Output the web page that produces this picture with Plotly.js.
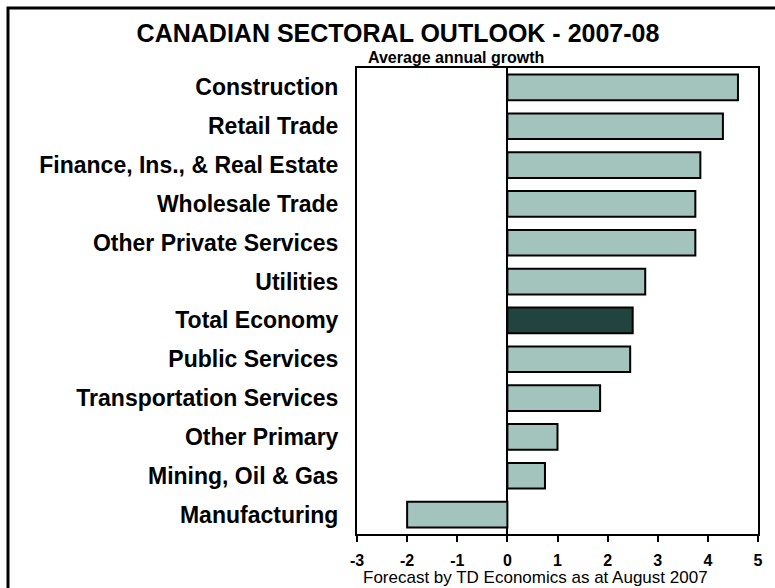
<!DOCTYPE html>
<html>
<head>
<meta charset="utf-8">
<script src="https://cdn.plot.ly/plotly-3.0.1.min.js"></script>
<style>
html,body{margin:0;padding:0;background:#fff;overflow:hidden;}
#chart{width:775px;height:588px;}
</style>
</head>
<body>
<div id="chart"></div>
<script>
const sectors = [
  "Construction",
  "Retail Trade",
  "Finance, Ins., & Real Estate",
  "Wholesale Trade",
  "Other Private Services",
  "Utilities",
  "Total Economy",
  "Public Services",
  "Transportation Services",
  "Other Primary",
  "Mining, Oil & Gas",
  "Manufacturing"
];
const growth = [4.6, 4.3, 3.85, 3.75, 3.75, 2.75, 2.5, 2.45, 1.85, 1.0, 0.75, -2.0];
const highlight = "Total Economy";
const xTicks = [-3, -2, -1, 0, 1, 2, 3, 4, 5];

const lightColor = "#a3c4bc";
const darkColor = "#22443f";
const FONT = "Liberation Sans, Arial, Helvetica, sans-serif";

const colors = sectors.map(s => s === highlight ? darkColor : lightColor);

const W = 775, H = 588;
const m = {l: 357, r: 17, t: 68, b: 54};
const pw = W - m.l - m.r, ph = H - m.t - m.b;
const px = v => (v - m.l) / pw;
const py = v => (H - m.b - v) / ph;

const trace = {
  type: "bar",
  orientation: "h",
  y: sectors,
  x: growth,
  marker: {color: colors, line: {color: "#000", width: 2}},
  hoverinfo: "skip"
};

const layout = {
  width: W, height: H,
  margin: m,
  paper_bgcolor: "#fff",
  plot_bgcolor: "#fff",
  showlegend: false,
  bargap: 0.34,
  font: {family: FONT, color: "#000"},
  title: {
    text: "CANADIAN SECTORAL OUTLOOK - 2007-08",
    font: {family: FONT, size: 25, weight: "bold", color: "#000"},
    x: 398 / W, xanchor: "center",
    y: 1 - 33 / H, yanchor: "middle"
  },
  xaxis: {
    range: [-3, 5],
    tickvals: xTicks,
    ticktext: xTicks.map(String),
    ticks: "outside", ticklen: 6, tickwidth: 2, tickcolor: "#000",
    tickfont: {family: FONT, size: 16, weight: "bold", color: "#000"},
    ticklabelstandoff: 5,
    showgrid: false,
    zeroline: true, zerolinecolor: "#000", zerolinewidth: 2,
    showline: true, linecolor: "#000", linewidth: 2, mirror: true,
    fixedrange: true
  },
  yaxis: {
    autorange: "reversed",
    type: "category",
    ticks: "",
    ticklabelstandoff: 12,
    tickfont: {family: FONT, size: 23, weight: "bold", color: "#000"},
    showgrid: false,
    showline: true, linecolor: "#000", linewidth: 2, mirror: true,
    fixedrange: true
  },
  annotations: [
    {
      text: "Average annual growth",
      xref: "paper", yref: "paper",
      x: px(456), y: py(57.5),
      xanchor: "center", yanchor: "middle",
      showarrow: false,
      font: {family: FONT, size: 16, weight: "bold", color: "#000"}
    },
    {
      text: "Forecast by TD Economics as at August 2007",
      xref: "paper", yref: "paper",
      x: px(535.5), y: py(577),
      xanchor: "center", yanchor: "middle",
      showarrow: false,
      font: {family: FONT, size: 17, color: "#000"}
    }
  ],
  shapes: [
    {
      type: "rect", xref: "paper", yref: "paper",
      x0: px(8), x1: px(790), y0: py(600), y1: py(8),
      line: {color: "#000", width: 3},
      fillcolor: "rgba(0,0,0,0)",
      layer: "above"
    }
  ]
};

Plotly.newPlot("chart", [trace], layout, {displayModeBar: false, staticPlot: true});
</script>
</body>
</html>
